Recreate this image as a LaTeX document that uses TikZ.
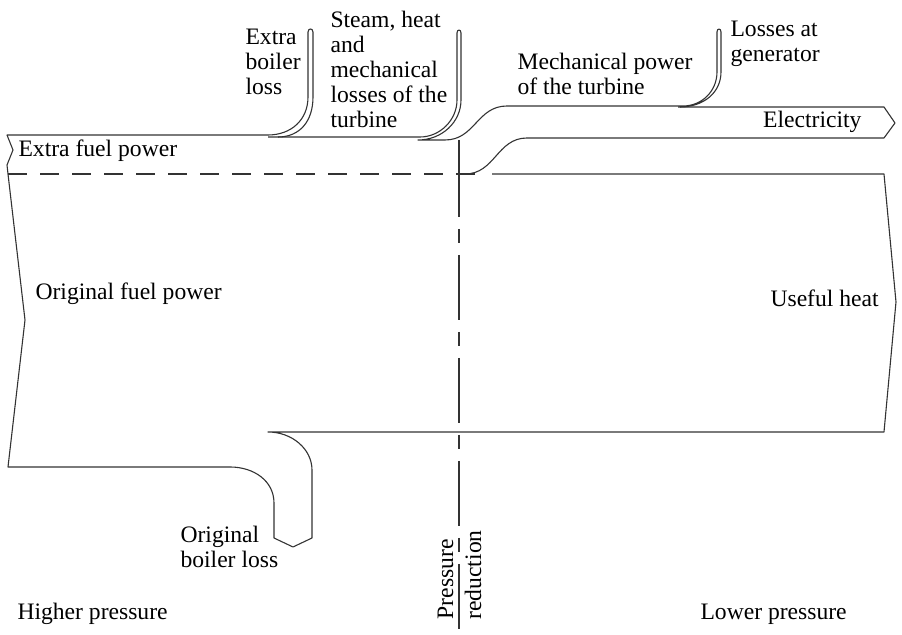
\documentclass[tikz,border=0pt]{standalone}
\usepackage{fontspec}
\setmainfont{Liberation Serif}
\begin{document}
\begin{tikzpicture}[x=0.5pt, y=-0.5pt, line width=0.55pt, line join=round,
    flow/.style={draw=black!80},
    lbl/.style={inner sep=0pt, align=left, font=\fontsize{11.8}{12.5}\selectfont},
    sep/.style={dash pattern=on 9.5pt off 6.5pt},
    cut/.style={dash pattern=on 32.5pt off 6pt on 7pt off 6pt}]
  \useasboundingbox (0,0) rectangle (902,635);
  % extra fuel band and its losses
  \draw[flow] (8,174) -- (7,165) -- (13,150) -- (7,135) -- (268,135)
      .. controls (291,135) and (308,120) .. (308,97) -- (308,32)
      .. controls (308,28) and (313,28) .. (313,32) -- (313,97)
      .. controls (313,121) and (300,137) .. (278,137);
  \draw[flow] (268,137) -- (420,137)
      .. controls (440,137) and (457,120) .. (457,100) -- (457,33)
      .. controls (457,29) and (461,29) .. (461,33) -- (461,100)
      .. controls (461,122) and (442,140) .. (418,140) -- (445,140)
      .. controls (475,140) and (477,106) .. (507,106) -- (683,106)
      .. controls (702,106) and (717,91) .. (717,72) -- (717,32)
      .. controls (717,28) and (721,28) .. (721,32) -- (721,72)
      .. controls (721,93) and (703,107) .. (680,107);
  \draw[flow] (678,107) -- (884,107) -- (895,123) -- (884,138) -- (527,138)
      .. controls (497,138) and (495,174) .. (465,174);
  % original fuel band
  \draw[flow] (492,174) -- (884,174) -- (896,302) -- (884,432) -- (268,432)
      .. controls (292,432) and (312,449) .. (312,470) -- (312,538) -- (293,547)
      -- (274,538) -- (274,503) .. controls (274,481) and (254,467) .. (230,467)
      -- (8,467) -- (25,320) -- (8,174);
  \draw[flow, sep] (8,174) -- (487,174);
  \draw[flow] (459,140) -- (459,152);
  \draw[flow, cut] (459,152) -- (459,635);
  \node[lbl, anchor=base west] (ebloss) at (245,95) {Extra\\boiler\\loss};
  \node[lbl, anchor=base west] (steamloss) at (330,128) {Steam, heat\\and\\mechanical\\losses of the\\turbine};
  \node[lbl, anchor=base west] (mechpow) at (517,95) {Mechanical power\\of the turbine};
  \node[lbl, anchor=base west] (genloss) at (730,62) {Losses at\\generator};
  \node[lbl, anchor=base west] (extrafuel) at (18,157) {Extra fuel power};
  \node[lbl, anchor=base east] (elec) at (862,128) {Electricity};
  \node[lbl, anchor=base west] (origfuel) at (35,300) {Original fuel power};
  \node[lbl, anchor=base west] (heat) at (770,307) {Useful heat};
  \node[lbl, anchor=base west] (oboiler) at (180,568) {Original\\boiler loss};
  \node[lbl, anchor=base west] (highp) at (17,620) {Higher pressure};
  \node[lbl, anchor=base west] (lowp) at (700,620) {Lower pressure};
  \node[lbl, anchor=base west, rotate=90] (pres) at (453,620) {Pressure};
  \node[lbl, anchor=base west, rotate=90] (reduc) at (481,620) {reduction};
\end{tikzpicture}
\end{document}
